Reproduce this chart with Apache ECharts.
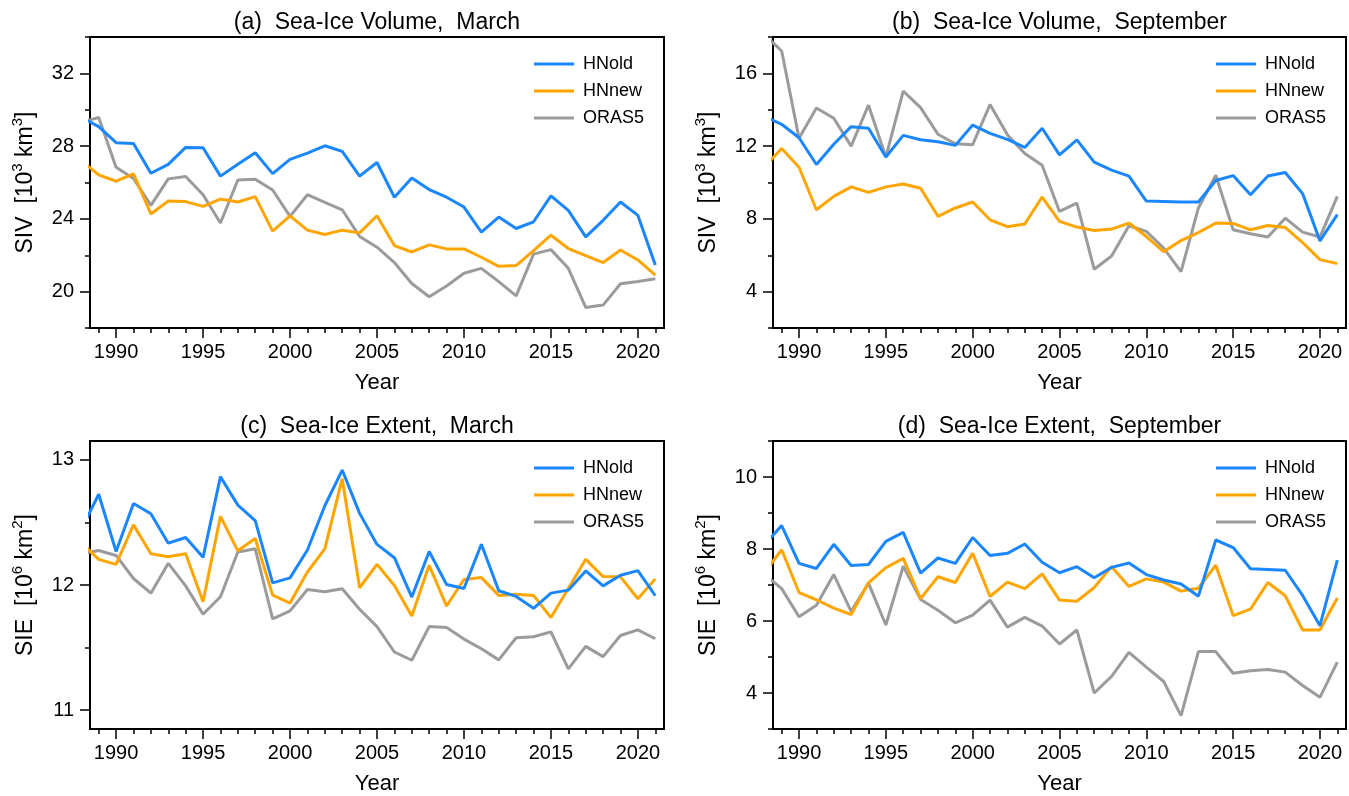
<!DOCTYPE html>
<html>
<head>
<meta charset="utf-8">
<title>Sea-ice volume and extent</title>
<script src="https://cdn.jsdelivr.net/npm/echarts@6/dist/echarts.min.js"></script>
<style>
  html, body { margin: 0; padding: 0; background: #fff; }
  #main { width: 1349px; height: 796px; }
</style>
</head>
<body>
<div id="main"></div>
<script type="text/javascript">
// years (1988 lies just left of the axis and gets clipped)
var years = [1988, 1989, 1990, 1991, 1992, 1993, 1994, 1995, 1996, 1997, 1998, 1999,
  2000, 2001, 2002, 2003, 2004, 2005, 2006, 2007, 2008, 2009, 2010, 2011,
  2012, 2013, 2014, 2015, 2016, 2017, 2018, 2019, 2020, 2021];
var seriesNames = ['HNold', 'HNnew', 'ORAS5'];
var xMajor = [1990, 1995, 2000, 2005, 2010, 2015, 2020];

// (a) SIV March [10^3 km^3]
var aOld = [29.59, 29.07, 28.19, 28.15, 26.51, 27.0, 27.93, 27.91, 26.35, 27.0, 27.64, 26.49, 27.27, 27.62, 28.02, 27.71, 26.35, 27.1, 25.19, 26.25, 25.61, 25.19, 24.65, 23.27, 24.1, 23.47, 23.84, 25.26, 24.47, 23.01, 23.92, 24.93, 24.19, 21.47];
var aNew = [27.2, 26.42, 26.07, 26.48, 24.27, 24.98, 24.95, 24.69, 25.09, 24.93, 25.22, 23.33, 24.17, 23.38, 23.14, 23.38, 23.23, 24.17, 22.53, 22.18, 22.57, 22.35, 22.35, 21.89, 21.39, 21.43, 22.26, 23.1, 22.37, 21.98, 21.6, 22.29, 21.74, 20.91];
var aOras = [29.31, 29.57, 26.84, 26.22, 24.74, 26.2, 26.33, 25.33, 23.77, 26.14, 26.18, 25.59, 24.14, 25.33, 24.91, 24.5, 23.03, 22.44, 21.6, 20.45, 19.72, 20.31, 21.01, 21.28, 20.55, 19.77, 22.06, 22.31, 21.28, 19.13, 19.26, 20.43, 20.56, 20.71];
var aYMajor = [20, 24, 28, 32];
var aYMinor = [18, 22, 26, 30, 34];

// (b) SIV September [10^3 km^3]
var bOld = [13.64, 13.2, 12.46, 10.99, 12.1, 13.07, 12.98, 11.4, 12.59, 12.35, 12.24, 12.04, 13.16, 12.7, 12.37, 11.93, 12.98, 11.52, 12.34, 11.12, 10.68, 10.35, 8.98, 8.96, 8.93, 8.93, 10.11, 10.38, 9.33, 10.36, 10.55, 9.39, 6.79, 8.23];
var bNew = [10.85, 11.87, 10.84, 8.5, 9.24, 9.76, 9.46, 9.76, 9.92, 9.68, 8.14, 8.6, 8.93, 7.95, 7.57, 7.72, 9.2, 7.86, 7.55, 7.36, 7.44, 7.77, 7.03, 6.2, 6.81, 7.25, 7.77, 7.75, 7.4, 7.64, 7.53, 6.7, 5.76, 5.54];
var bOras = [18.13, 17.23, 12.43, 14.1, 13.53, 12.0, 14.25, 11.4, 15.02, 14.12, 12.65, 12.13, 12.08, 14.29, 12.63, 11.6, 10.95, 8.41, 8.87, 5.23, 5.96, 7.62, 7.31, 6.39, 5.1, 8.6, 10.4, 7.4, 7.18, 7.0, 8.04, 7.27, 7.0, 9.24];
var bYMajor = [4, 8, 12, 16];
var bYMinor = [2, 6, 10, 14, 18];

// (c) SIE March [10^6 km^2]
var cOld = [12.445, 12.725, 12.268, 12.651, 12.569, 12.334, 12.379, 12.221, 12.865, 12.638, 12.514, 12.017, 12.057, 12.279, 12.633, 12.918, 12.572, 12.324, 12.218, 11.904, 12.268, 12.004, 11.972, 12.326, 11.954, 11.909, 11.814, 11.935, 11.959, 12.112, 11.993, 12.078, 12.115, 11.914];
var cNew = [12.337, 12.205, 12.165, 12.48, 12.25, 12.226, 12.25, 11.867, 12.548, 12.273, 12.371, 11.919, 11.856, 12.104, 12.289, 12.849, 11.978, 12.165, 11.996, 11.753, 12.157, 11.832, 12.044, 12.059, 11.917, 11.927, 11.917, 11.74, 11.972, 12.205, 12.067, 12.065, 11.89, 12.049];
var cOras = [12.25, 12.276, 12.236, 12.052, 11.935, 12.173, 11.993, 11.766, 11.906, 12.263, 12.289, 11.729, 11.793, 11.964, 11.946, 11.97, 11.806, 11.668, 11.465, 11.399, 11.668, 11.66, 11.568, 11.491, 11.402, 11.579, 11.587, 11.626, 11.33, 11.51, 11.428, 11.597, 11.642, 11.571];
var cYMajor = [11, 12, 13];
var cYMinor = [11.5, 12.5];

// (d) SIE September [10^6 km^2]
var dOld = [8.11, 8.65, 7.6, 7.46, 8.13, 7.54, 7.57, 8.21, 8.46, 7.33, 7.75, 7.6, 8.32, 7.82, 7.88, 8.14, 7.63, 7.34, 7.51, 7.2, 7.49, 7.61, 7.29, 7.14, 7.03, 6.69, 8.25, 8.04, 7.45, 7.43, 7.41, 6.71, 5.87, 7.69];
var dNew = [7.34, 7.98, 6.79, 6.59, 6.36, 6.18, 7.06, 7.48, 7.74, 6.62, 7.23, 7.07, 7.88, 6.68, 7.08, 6.9, 7.31, 6.58, 6.55, 6.93, 7.51, 6.96, 7.17, 7.08, 6.83, 6.91, 7.55, 6.15, 6.33, 7.07, 6.7, 5.75, 5.75, 6.64];
var dOras = [7.3, 6.9, 6.12, 6.44, 7.29, 6.27, 7.05, 5.89, 7.52, 6.6, 6.3, 5.95, 6.16, 6.58, 5.83, 6.1, 5.86, 5.36, 5.75, 4.0, 4.46, 5.13, 4.72, 4.32, 3.37, 5.15, 5.15, 4.55, 4.62, 4.65, 4.58, 4.21, 3.88, 4.86];
var dYMajor = [4, 6, 8, 10];
var dYMinor = [3, 5, 7, 9, 11];

var colors = ['#1a86ff', '#ffa500', '#9b9b9b'];
var font = 'Liberation Sans, Arial, Helvetica, sans-serif';

var panels = [
  { title: '(a)  Sea-Ice Volume,  March', yName: 'SIV  [10{s|3} km{s|3}]',
    yMin: 18, yMax: 34, yMajor: aYMajor, yMinor: aYMinor, data: [aOld, aNew, aOras],
    left: 90, top: 37, width: 574 },
  { title: '(b)  Sea-Ice Volume,  September', yName: 'SIV  [10{s|3} km{s|3}]',
    yMin: 2, yMax: 18, yMajor: bYMajor, yMinor: bYMinor, data: [bOld, bNew, bOras],
    left: 773, top: 37, width: 573 },
  { title: '(c)  Sea-Ice Extent,  March', yName: 'SIE  [10{s|6} km{s|2}]',
    yMin: 10.85, yMax: 13.15, yMajor: cYMajor, yMinor: cYMinor, data: [cOld, cNew, cOras],
    left: 90, top: 441, width: 574 },
  { title: '(d)  Sea-Ice Extent,  September', yName: 'SIE  [10{s|6} km{s|2}]',
    yMin: 3, yMax: 11, yMajor: dYMajor, yMinor: dYMinor, data: [dOld, dNew, dOras],
    left: 773, top: 441, width: 573 }
];
var plotHeight = 291;

var myChart = echarts.init(document.getElementById('main'));

var grid = [], xAxis = [], yAxis = [], series = [], title = [], legend = [];
var axisLine = { show: true, lineStyle: { color: '#000', width: 2 } };
function plain(v) { return String(v); }

panels.forEach(function (p, i) {
  grid.push({
    left: p.left, top: p.top, width: p.width, height: plotHeight,
    show: true, borderColor: '#000', borderWidth: 2, backgroundColor: 'transparent'
  });
  title.push({
    text: p.title,
    left: p.left + p.width / 2 - 5, textAlign: 'center',
    top: p.top - 31,
    textStyle: { fontFamily: font, fontSize: 23, fontWeight: 'normal', color: '#000' }
  });
  legend.push({
    data: seriesNames,
    orient: 'vertical',
    left: p.left + p.width - 135, top: p.top + 13,
    icon: 'rect', itemWidth: 40, itemHeight: 3, itemGap: 9,
    textStyle: { fontFamily: font, fontSize: 18, color: '#000', padding: [0, 0, 0, 4] },
    selectedMode: false
  });

  // major x axis (labels, long ticks)
  xAxis.push({
    type: 'value', gridIndex: i, position: 'bottom',
    min: 1988.5, max: 2021.5,
    name: 'Year', nameLocation: 'middle', nameGap: 44,
    nameTextStyle: { fontFamily: font, fontSize: 22, color: '#000' },
    axisLine: axisLine,
    axisTick: { show: true, inside: false, length: 10, customValues: xMajor, lineStyle: { color: '#000', width: 1.5 } },
    axisLabel: { customValues: xMajor, formatter: plain, margin: 14, fontFamily: font, fontSize: 20, color: '#000' },
    splitLine: { show: false }
  });
  // minor x axis (short ticks on every year)
  xAxis.push({
    type: 'value', gridIndex: i, position: 'bottom',
    min: 1988.5, max: 2021.5,
    axisLine: { show: false },
    axisTick: { show: true, length: 5, customValues: years.slice(1), lineStyle: { color: '#000', width: 1.5 } },
    axisLabel: { show: false },
    splitLine: { show: false }
  });
  // major y axis
  yAxis.push({
    type: 'value', gridIndex: i, position: 'left',
    min: p.yMin, max: p.yMax,
    name: p.yName, nameLocation: 'middle', nameGap: 48,
    nameTextStyle: {
      fontFamily: font, fontSize: 23, color: '#000', lineHeight: 32,
      rich: { s: { fontFamily: font, fontSize: 15, color: '#000', verticalAlign: 'top', lineHeight: 16 } }
    },
    axisLine: axisLine,
    axisTick: { show: true, length: 10, customValues: p.yMajor, lineStyle: { color: '#000', width: 1.5 } },
    axisLabel: { customValues: p.yMajor, formatter: plain, margin: 16, fontFamily: font, fontSize: 20, color: '#000' },
    splitLine: { show: false }
  });
  // minor y axis
  yAxis.push({
    type: 'value', gridIndex: i, position: 'left',
    min: p.yMin, max: p.yMax,
    axisLine: { show: false },
    axisTick: { show: true, length: 5, customValues: p.yMinor, lineStyle: { color: '#000', width: 1.5 } },
    axisLabel: { show: false },
    splitLine: { show: false }
  });

  p.data.forEach(function (vals, k) {
    series.push({
      name: seriesNames[k], type: 'line',
      xAxisIndex: 2 * i, yAxisIndex: 2 * i,
      data: years.map(function (y, j) { return [y, vals[j]]; }),
      symbol: 'none', clip: true,
      lineStyle: { color: colors[k], width: 3 },
      itemStyle: { color: colors[k] },
      z: 3 - k
    });
  });
});

var option = {
  backgroundColor: '#fff',
  animation: false,
  title: title,
  legend: legend,
  grid: grid,
  xAxis: xAxis,
  yAxis: yAxis,
  series: series
};

myChart.setOption(option);
</script>
</body>
</html>
